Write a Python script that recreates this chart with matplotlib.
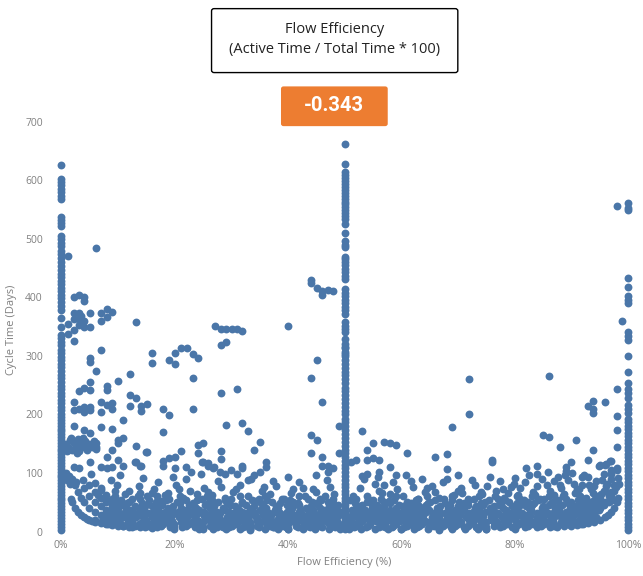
import matplotlib.pyplot as plt
from matplotlib.patches import FancyBboxPatch

plt.rcParams.update({
    'font.family': ['Open Sans', 'DejaVu Sans'],
    'font.size': 8,
})

# vertical stacks at 0 %, 50 % and 100 % flow efficiency (cycle time in days)
col0_y = [627, 603, 598, 592, 586, 580, 574, 569, 537, 532, 527, 522, 505, 500,
          494, 488, 480, 474, 467, 461, 454, 447, 441, 435, 429, 423, 417, 411,
          405, 399, 392, 386, 379, 365, 349, 336, 330, 324, 318, 311, 305, 299,
          293, 287, 281, 274, 268, 262, 256, 249, 243, 237, 231, 225, 219, 213,
          207, 201, 196, 191, 186, 181, 176, 171, 166, 161, 156, 151, 146, 141,
          137, 132, 127, 122, 117, 112, 107, 102, 97, 93, 88, 83, 78, 73, 68, 63,
          58, 53, 48, 43, 38, 33, 28, 23, 18, 13, 8, 3]
col50_y = [662, 628, 614, 609, 604, 599, 594, 589, 584, 579, 574, 569, 564, 559,
           554, 549, 544, 539, 534, 525, 510, 496, 490, 486, 470, 465, 460, 455,
           449, 443, 437, 431, 414, 408, 402, 396, 390, 384, 378, 372, 358, 352,
           346, 341, 329, 316, 303, 320, 314, 307, 300, 293, 287, 280, 273, 267,
           260, 253, 246, 240, 233, 226, 220, 213, 206, 200, 193, 187, 180, 173,
           167, 160, 153, 147, 140, 134, 127, 121, 114, 108, 101, 95, 88, 82, 76,
           70, 64, 58, 52, 46, 40, 34, 28, 22, 16, 10, 4]
col100_y = [561, 553, 549, 433, 418, 402, 396, 390, 341, 334, 327, 300, 272, 254,
            243, 236, 228, 216, 209, 202, 193, 187, 181, 175, 169, 163, 157, 151,
            145, 139, 133, 127, 121, 115, 109, 103, 97, 91, 85, 79, 73, 67, 61,
            55, 49, 43, 37, 31, 25, 19, 13, 7, 2]

# scattered points above the dense band
sparse_x = [1.2, 6.1, 2.2, 3.2, 4.1, 4.1, 2.2, 3.2, 2.2, 3.2, 4.1, 5.1, 5.1, 4.1,
            1.2, 2.2, 2.2, 1.2, 3.2, 3.5, 7.1, 8.1, 8.1, 9.0, 7.1, 13.2, 7.1, 5.1,
            5.1, 6.1, 5.1, 16.1, 16.1, 19.1, 20.1, 20.1, 21.1, 22.2, 23.2, 24.1,
            27.2, 28.2, 29.1, 30.1, 31.1, 32.0, 29.1, 28.2, 40.1, 44.1, 44.1, 45.1,
            46.1, 46.1, 47.0, 48.0, 45.1, 44.1, 46.1, 12.2, 23.2, 28.2, 31.1, 12.2,
            13.2, 15.1, 12.2, 14.1, 14.1, 18.0, 19.1, 23.2, 18.0, 29.1, 32.0, 33.0,
            35.1, 34.0, 44.1, 45.1, 44.1, 46.1, 46.1, 13.2, 15.1, 13.2, 14.1, 24.1,
            25.1, 24.1, 21.1, 20.1, 19.1, 18.0, 18.0, 28.2, 28.2,
            2.2, 3.2, 4.1, 5.1, 3.2, 4.1, 5.1, 5.1, 4.1, 2.2, 7.1, 7.1, 8.1, 9.0,
            9.0, 8.1, 8.1, 7.1, 10.0, 11.0, 2.2, 4.1, 5.1, 9.0, 11.0, 10.0, 10.0,
            14.9, 6.1, 6.1, 8.1, 9.0, 2.2, 3.2, 5.1, 7.1, 8.1, 9.0, 10.0, 11.0,
            13.1, 13.9, 20.1, 22.0, 23.0, 24.9, 25.9, 26.8,
            98.0, 98.9, 98.0, 98.0, 98.0, 98.0, 96.0, 93.0, 93.9, 93.9, 93.9, 90.9,
            88.0, 86.0, 85.0, 86.0, 93.9, 72.0, 72.0, 69.0, 66.0, 68.0, 68.0, 76.0,
            76.0, 92.9, 94.9, 95.9, 96.9, 98.0, 82.0, 84.0, 89.0, 89.0, 89.9, 83.9,
            85.9, 88.9, 91.8, 93.0, 95.1, 96.1, 97.0, 97.0, 97.0, 98.0,
            49.1, 49.1, 53.0, 55.0, 57.0, 58.0, 59.0, 61.0, 54.0, 52.0, 51.1, 54.0,
            55.0, 56.0, 47.0, 47.0, 48.0, 58.0, 59.0, 57.0, 56.0, 53.0, 54.0,
            25.1, 26.0, 27.0, 28.0, 29.0, 30.0, 31.0, 32.0, 32.0, 36.1, 36.1, 35.1,
            34.0, 33.0]
sparse_y = [471, 484, 400, 404, 400, 394, 373, 374, 363, 363, 359, 373, 350, 350,
            354, 344, 326, 338, 353, 368, 373, 380, 367, 375, 360, 358, 310, 296,
            290, 275, 256, 305, 288, 293, 286, 305, 314, 314, 303, 296,
            352, 346, 346, 346, 346, 342, 324, 318, 352, 430, 424, 416,
            411, 404, 413, 411, 294, 262, 222, 270, 263, 236, 243, 233,
            229, 218, 215, 215, 206, 209, 199, 210, 170, 182, 186, 172,
            153, 140, 165, 156, 134, 128, 112, 146, 136, 119, 112, 148,
            152, 135, 138, 128, 125, 121, 112, 138, 124,
            222, 240, 245, 242, 209, 213, 213, 208, 205, 208, 222, 205, 217, 219,
            209, 249, 242, 178, 257, 191, 180, 173, 168, 175, 159, 156, 152,
            136, 145, 151, 128, 140, 111, 108, 118, 111, 108, 110, 122, 112,
            119, 112, 108, 110, 101, 118, 112, 108,
            557, 360, 243, 198, 173, 145, 221, 215, 223, 209, 202, 156,
            144, 266, 165, 162, 140, 260, 201, 179, 127, 132, 107, 123,
            118, 122, 112, 114, 121, 108, 108, 112, 110, 104, 118, 98,
            102, 97, 94, 94, 114, 115, 121, 105, 99, 105,
            181, 135, 172, 152, 153, 152, 148, 135, 139, 122, 118, 122,
            125, 123, 112, 102, 108, 111, 97, 79, 102, 95, 99,
            119, 117, 111, 101, 99, 105, 98, 108, 112, 118, 111, 102,
            97, 88]

# clusters close to 0 %
cluster_x = [0.8, 1.2, 1.5, 2.0, 2.2, 2.6, 3.0, 3.2, 3.5, 4.0, 4.2, 4.6, 5.0, 5.5,
             1.0, 1.8, 2.8, 3.8, 0.6, 5.8, 4.4, 6.2,
             0.6, 1.0, 1.4, 2.0, 0.8, 2.6, 1.6]
cluster_y = [150, 145, 156, 140, 152, 147, 158, 138, 150, 145, 155, 140, 150, 144,
             138, 160, 135, 160, 142, 155, 148, 141,
             92, 88, 95, 90, 100, 85, 82]

# curved edges of the band near 0 % and 100 %
arc_x = [1.8, 2.0, 2.5, 3.0, 3.5, 4.0, 4.5, 5.0, 5.5, 6.0, 7.0, 8.0, 9.0, 10.0,
         11.0, 12.0, 14.0, 16.0,
         2.5, 3.0, 3.5, 4.0, 5.0, 6.0, 7.0, 8.0, 9.0, 10.0,
         4.0, 5.0, 6.0, 7.0, 8.0, 9.0, 10.0,
         5.0, 6.0, 7.0, 8.0, 9.0, 10.0, 6.0, 7.0, 8.0, 9.0, 10.0,
         90.0, 91.0, 92.0, 93.0, 94.0, 95.0, 96.0, 96.5, 97.0, 97.5, 98.0, 98.3,
         90.0, 92.0, 93.0, 94.0, 95.0, 96.0, 96.6, 97.0, 97.5,
         91.0, 92.0, 93.0, 94.0, 95.0, 95.7, 96.3]
arc_y = [55, 50, 40, 33, 29, 25, 22, 20, 18, 16.5, 14, 12.5, 11, 10,
         9, 8.3, 7, 6,
         80, 67, 57, 50, 40, 33, 29, 25, 22, 20,
         75, 60, 50, 43, 37, 33, 30,
         80, 67, 57, 50, 44, 40, 83, 71, 62, 55, 50,
         10, 11, 12.5, 14, 17, 20, 25, 29, 33, 40, 50, 58,
         20, 25, 29, 33, 40, 50, 60, 67, 80,
         33, 37.5, 43, 50, 60, 70, 81]

# dense band: one row of x positions per cycle-time level
band_levels = [4, 8, 10, 12, 16, 18, 20, 24, 26, 28, 32, 34, 36, 41, 44, 46, 49,
               51, 54, 56, 60]
band_rows = [
    [24.3, 26.8, 29.1, 31.5, 33.3, 35.9, 38.2, 40.0, 42.6, 44.8, 47.3, 49.2, 50.8,
     52.9, 55.4, 57.6, 60.0, 62.3, 64.7, 66.7, 68.9, 71.2, 73.6, 75.0],
    [12.5, 14.8, 16.9, 19.2, 21.4, 23.6, 25.0, 27.5, 29.7, 32.1, 33.3, 35.0, 37.4,
     39.6, 41.8, 43.9, 46.1, 48.3, 51.7, 53.8, 56.0, 58.3, 60.5, 62.7, 64.9, 66.7,
     68.8, 71.0, 73.2, 75.0, 77.4, 79.6, 81.8, 84.0, 86.3, 87.5],
    [11.0, 13.0, 15.3, 17.7, 19.9, 22.1, 24.7, 26.3, 28.3, 30.1, 32.7, 34.6, 36.9,
     39.0, 41.5, 43.6, 45.6, 47.9, 52.0, 54.1, 56.6, 58.6, 61.0, 63.1, 65.8, 67.3,
     69.5, 71.8, 74.5, 76.3, 78.0, 80.3, 82.3, 84.7, 86.9, 88.8],
    [8.3, 10.6, 13.7, 15.8, 18.0, 20.0, 22.5, 24.4, 26.6, 28.6, 30.8, 33.3, 34.9,
     36.4, 38.5, 40.0, 42.9, 45.0, 47.2, 49.0, 51.0, 52.6, 54.5, 57.1, 59.1, 61.5,
     63.6, 65.2, 67.9, 70.0, 72.2, 74.1, 76.5, 78.6, 80.8, 83.3, 85.2, 87.0, 89.5,
     91.7],
    [7.1, 9.4, 11.8, 14.3, 16.7, 18.8, 21.1, 23.1, 25.0, 27.3, 29.4, 31.3, 33.3,
     35.3, 37.5, 39.1, 41.2, 43.8, 45.5, 47.6, 52.4, 54.5, 56.3, 58.8, 60.9, 62.5,
     64.7, 66.7, 68.8, 70.6, 72.7, 75.0, 76.9, 78.9, 81.3, 83.3, 85.7, 88.2, 90.6,
     92.9],
    [8.0, 10.2, 12.6, 14.9, 17.3, 19.6, 21.9, 24.2, 26.4, 28.5, 30.7, 32.8, 34.6,
     36.7, 38.8, 40.8, 42.7, 44.9, 46.8, 48.7, 51.2, 53.1, 55.5, 57.4, 59.7, 61.6,
     63.7, 65.9, 67.8, 69.9, 72.1, 74.0, 76.2, 78.2, 80.3, 82.2, 84.5, 86.8, 89.0,
     91.5, 93.0],
    [6.0, 8.7, 10.0, 12.5, 15.0, 17.4, 19.0, 21.7, 24.0, 26.1, 28.0, 30.4, 32.0,
     34.8, 36.0, 38.1, 40.0, 42.1, 44.0, 46.2, 48.0, 50.9, 53.3, 55.0, 57.9, 59.5,
     61.9, 64.0, 65.5, 68.0, 69.6, 72.0, 73.9, 76.0, 78.3, 80.0, 82.6, 84.0, 86.4,
     88.5, 91.3, 93.8],
    [7.7, 11.1, 13.3, 16.0, 18.2, 20.8, 22.2, 25.9, 27.8, 29.2, 31.8, 34.4, 36.8,
     38.9, 41.7, 43.5, 45.8, 47.8, 52.2, 54.2, 56.5, 58.3, 60.7, 62.9, 65.4, 66.7,
     69.2, 71.4, 73.3, 75.8, 77.8, 79.2, 81.5, 83.9, 85.0, 87.0, 89.3, 91.7, 94.4],
    [8.5, 10.8, 12.3, 14.7, 17.0, 19.4, 21.3, 23.7, 25.2, 27.4, 30.0, 32.2, 34.3,
     36.4, 38.4, 40.3, 42.5, 44.6, 46.5, 48.4, 51.2, 53.4, 55.3, 57.2, 59.6, 61.6,
     63.7, 65.8, 68.0, 70.1, 71.9, 74.4, 76.3, 78.5, 80.2, 82.7, 84.3, 86.2, 88.0,
     90.0, 92.3, 93.9],
    [9.1, 11.6, 14.0, 16.2, 18.5, 20.6, 23.3, 25.6, 27.0, 29.6, 31.0, 33.3, 35.7,
     37.0, 39.3, 41.4, 43.3, 45.2, 47.4, 49.1, 51.9, 53.6, 55.6, 57.7, 60.0, 62.1,
     63.9, 66.7, 68.4, 70.4, 72.4, 74.2, 76.7, 78.1, 80.6, 82.1, 84.6, 86.7, 88.9,
     90.5, 92.6],
    [8.0, 10.3, 12.9, 15.4, 17.6, 19.4, 21.9, 24.2, 26.5, 28.1, 30.3, 32.5, 34.1,
     36.6, 38.7, 40.6, 42.4, 44.7, 46.9, 48.5, 51.5, 53.1, 55.2, 57.5, 59.4, 61.3,
     63.3, 65.6, 67.7, 69.7, 71.9, 73.5, 75.8, 77.1, 79.3, 81.3, 83.9, 85.9, 87.9,
     90.3, 93.1],
    [9.3, 11.3, 13.8, 16.3, 18.4, 20.6, 23.0, 25.3, 27.5, 29.7, 31.9, 33.9, 35.9,
     38.0, 39.9, 41.9, 43.9, 45.9, 47.7, 49.3, 52.7, 54.6, 56.7, 58.6, 60.2, 62.4,
     64.4, 66.4, 68.5, 70.5, 72.6, 74.7, 76.6, 78.7, 80.7, 82.7, 84.9, 86.9, 89.1,
     91.4, 93.7],
    [9.7, 12.2, 14.6, 17.1, 19.5, 22.0, 24.4, 26.8, 28.9, 31.4, 33.3, 35.1, 37.8,
     40.5, 42.2, 44.4, 46.3, 48.6, 51.4, 53.7, 55.9, 58.1, 60.6, 62.2, 64.9, 66.7,
     69.4, 71.1, 73.7, 75.7, 78.4, 80.5, 82.9, 85.3, 87.8, 90.0, 92.3, 94.9],
    [8.9, 11.4, 13.9, 16.5, 18.9, 21.2, 23.8, 26.3, 28.6, 31.1, 33.7, 36.1, 38.3,
     40.7, 43.2, 45.6, 47.9, 52.1, 54.8, 56.8, 59.0, 61.4, 63.8, 66.3, 68.3, 70.7,
     73.0, 75.6, 77.9, 80.2, 82.5, 84.8, 87.2, 89.7, 92.0, 94.6],
    [9.8, 13.1, 16.0, 19.8, 23.5, 27.0, 30.6, 34.0, 37.9, 41.0, 44.1, 47.2, 52.5,
     56.9, 60.3, 63.2, 66.9, 70.0, 73.2, 76.3, 79.5, 82.0, 85.0, 87.8, 90.8, 93.6],
    [10.9, 14.9, 17.8, 22.6, 25.4, 29.8, 32.6, 35.6, 39.8, 42.0, 45.3, 48.8, 53.0,
     55.8, 59.6, 62.0, 64.4, 68.6, 71.7, 74.4, 77.2, 80.9, 83.0, 86.0, 88.4, 91.1,
     95.7],
    [9.0, 11.7, 14.2, 17.5, 20.9, 23.2, 26.0, 29.3, 32.0, 35.3, 38.6, 41.8, 45.0,
     48.0, 51.8, 54.6, 58.0, 61.8, 64.8, 67.7, 71.0, 74.0, 77.6, 80.5, 83.5, 86.5,
     89.4, 92.0, 94.8],
    [12.0, 16.8, 20.4, 27.6, 31.9, 37.2, 41.0, 44.2, 47.0, 53.9, 57.0, 61.0, 65.0,
     70.2, 74.8, 79.0, 82.3, 86.8, 90.0, 93.3, 96.6],
    [10.5, 15.5, 18.6, 22.0, 26.6, 29.0, 33.6, 36.3, 40.3, 45.8, 50.9, 55.0, 58.8,
     62.6, 66.0, 69.0, 72.0, 75.5, 78.3, 81.6, 84.2, 87.7, 91.2, 94.0, 97.2],
    [14.0, 19.0, 24.8, 30.0, 35.0, 39.0, 43.5, 48.0, 52.0, 56.5, 63.0, 67.5, 72.8,
     77.0, 81.0, 85.2, 89.0, 92.5, 95.0],
    [9.6, 13.5, 17.0, 21.0, 25.8, 31.5, 36.0, 42.0, 46.5, 54.0, 59.0, 64.5, 69.0,
     73.8, 76.5, 80.5, 83.0, 86.0, 88.5, 91.5, 94.5, 97.0],
]

# short streaks at common fractions near the bottom
streak_x = [33.3, 33.3, 66.7, 66.7, 25.0, 75.0, 20.0, 80.0, 40.0, 60.0, 28.6, 71.4,
            42.9, 57.1, 37.5, 62.5]
streak_y = [3, 6, 3, 6, 4, 4, 5, 5, 5, 5, 7, 7, 7, 7, 8, 8]

# ragged upper edge of the band
fringe_x = [6.5, 7.8, 9.5, 11.2, 12.6, 13.8, 15.2, 16.4, 17.7, 18.9, 20.3, 21.5,
            22.8, 23.9, 25.2, 26.6, 27.7, 29.0, 30.4, 31.6, 32.9, 34.2, 35.4, 36.8,
            38.0, 39.3, 40.5, 41.9, 43.1, 44.4, 45.6, 46.9, 48.2, 51.5, 52.8, 54.1,
            55.3, 56.6, 57.9, 59.2, 60.4, 61.7, 62.9, 64.2, 65.5, 66.7, 68.0, 69.3,
            70.5, 71.8, 73.1, 74.3, 75.6, 76.8, 78.1, 79.4, 80.6, 81.9, 83.2, 84.4,
            85.7, 86.9, 88.2, 89.5, 90.7, 91.8, 92.6, 93.5, 94.4, 95.3, 96.2, 97.0,
            97.6, 98.4,
            8.8, 10.4, 14.5, 17.1, 19.8, 22.1, 24.6, 28.3, 33.5, 37.4, 40.0, 42.6,
            44.9, 47.5, 53.4, 55.9, 58.5, 60.9, 63.6, 67.3, 70.0, 72.4, 77.5, 80.0,
            82.5, 84.9, 87.6, 90.2, 92.2, 95.8, 3.8, 5.2,
            74.0, 78.8, 83.6, 86.3, 88.7, 91.0, 93.9, 96.7, 79.9, 84.0, 87.0, 90.4,
            93.2, 95.5, 97.8, 62.0, 66.0, 70.8, 58.0, 14.0, 18.3, 24.0, 30.8,
            75.2, 77.9, 81.0, 88.0, 91.3, 94.0, 96.0, 98.2, 70.0, 64.5, 7.0, 9.9,
            12.0, 16.0, 20.8, 26.0, 35.8, 41.0, 45.0, 56.0]
fringe_y = [62, 58, 70, 64, 55, 78, 60, 72, 52, 66, 80, 58,
            70, 54, 75, 62, 86, 57, 68, 80, 60, 52, 70, 64,
            77, 56, 66, 84, 60, 72, 55, 88, 64, 60, 74, 56,
            82, 65, 52, 72, 60, 86, 55, 68, 78, 58, 90, 62,
            74, 55, 80, 64, 94, 70, 58, 76, 63, 85, 68, 56,
            80, 62, 74, 88, 66, 80, 58, 72, 86, 64, 78, 90,
            70, 82,
            88, 96, 92, 84, 94, 90, 98, 76, 90, 86, 94, 75,
            96, 76, 90, 94, 84, 96, 90, 84, 96, 88, 86, 92,
            96, 90, 94, 100, 96, 98, 88, 98,
            68, 66, 62, 70, 64, 72, 66, 62, 82, 78, 86, 82,
            80, 88, 76, 76, 68, 66, 64, 66, 62, 64, 72,
            78, 72, 74, 80, 72, 78, 70, 92, 70, 74, 74, 80,
            70, 66, 72, 68, 76, 72, 68, 70]

x_ticks = [0, 20, 40, 60, 80, 100]
x_tick_labels = ['0%', '20%', '40%', '60%', '80%', '100%']
y_ticks = [0, 100, 200, 300, 400, 500, 600, 700]

chart_title = 'Flow Efficiency\n(Active Time / Total Time * 100)'
correlation = -0.343

dot_color = '#4a76a8'
grey = '#808080'

fig = plt.figure(figsize=(6.43, 5.76), dpi=100)
ax = fig.add_axes([0.0773, 0.0671, 0.917, 0.7211])

groups = [
    ([0] * len(col0_y), col0_y),
    ([50] * len(col50_y), col50_y),
    ([100] * len(col100_y), col100_y),
    (sparse_x, sparse_y),
    (cluster_x, cluster_y),
    (arc_x, arc_y),
    (streak_x, streak_y),
    (fringe_x, fringe_y),
]
for level, row in zip(band_levels, band_rows):
    groups.append((row, [level] * len(row)))

for gx, gy in groups:
    ax.scatter(gx, gy, s=32, color=dot_color, linewidths=0, zorder=3)

ax.set_xlim(-2, 102)
ax.set_ylim(-10, 700)
ax.set_xticks(x_ticks)
ax.set_xticklabels(x_tick_labels)
ax.set_yticks(y_ticks)
ax.tick_params(length=0, colors=grey, labelsize=7.5)
ax.tick_params(axis='x', pad=2)
ax.tick_params(axis='y', pad=5)
for side in ax.spines.values():
    side.set_visible(False)

ax.set_xlabel('Flow Efficiency (%)', color=grey, fontsize=8, labelpad=4)
ax.set_ylabel('Cycle Time (Days)', color=grey, fontsize=8, labelpad=6)

# title card
fig.patches.append(FancyBboxPatch((0.329, 0.874), 0.383, 0.111,
                                  boxstyle='round,pad=0,rounding_size=0.004',
                                  transform=fig.transFigure, facecolor='white',
                                  edgecolor='black', linewidth=1.0, zorder=5))
fig.text(0.520, 0.931, chart_title, ha='center', va='center', fontsize=10.5,
         linespacing=1.45, color='#222222', zorder=6)

# correlation badge
fig.patches.append(FancyBboxPatch((0.437, 0.781), 0.166, 0.069,
                                  boxstyle='round,pad=0,rounding_size=0.004',
                                  transform=fig.transFigure, facecolor='#ED7D31',
                                  edgecolor='none', zorder=5))
fig.text(0.520, 0.816, f'{correlation:.3f}', ha='center', va='center',
         fontsize=14.5, fontweight='bold', color='white', family='Roboto', zorder=6)

plt.savefig('out.png', dpi=100)
